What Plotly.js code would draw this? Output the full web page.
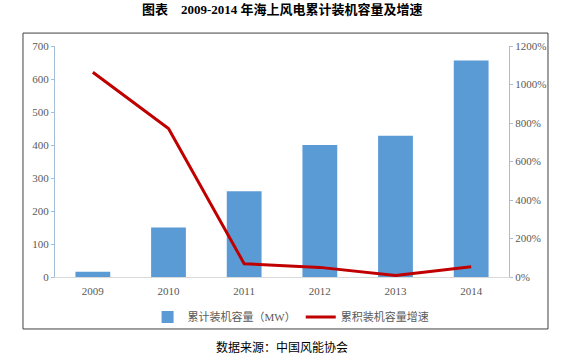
<!DOCTYPE html>
<html>
<head>
<meta charset="utf-8">
<script src="https://cdn.plot.ly/plotly-3.0.1.min.js"></script>
<style>html,body{margin:0;padding:0;background:#fff;}#chart{width:564px;height:359px;}</style>
</head>
<body>
<div id="chart"></div>
<script>
var years = ['2009', '2010', '2011', '2012', '2013', '2014'];
var capacityMW = [16, 150, 260, 400, 428, 656];
var growthPct = [1064, 771, 69, 50, 8, 53];
var capacityName = '累计装机容量（MW）';
var growthName = '累积装机容量增速';
var titleText = '图表　2009-2014 年海上风电累计装机容量及增速';
var sourceText = '数据来源：中国风能协会';

var serif = '"Liberation Serif", "Noto Sans CJK SC", serif';
var tickColor = '#595959';

var traces = [
  {
    type: 'bar', x: years, y: capacityMW, name: capacityName,
    marker: {color: '#5B9BD5'}, yaxis: 'y'
  },
  {
    type: 'scatter', mode: 'lines', x: years, y: growthPct, name: growthName,
    line: {color: '#C00000', width: 3}, yaxis: 'y2'
  }
];

var layout = {
  width: 564, height: 359,
  margin: {l: 55, r: 55, t: 46, b: 82},
  paper_bgcolor: '#ffffff', plot_bgcolor: '#ffffff',
  showlegend: true,
  bargap: 0.54,
  font: {family: serif, size: 11, color: tickColor},
  xaxis: {
    type: 'category', showgrid: false, zeroline: false,
    showline: true, linecolor: '#D9D9D9', linewidth: 1,
    ticks: '', tickfont: {family: serif, size: 11, color: tickColor},
    ticklabelstandoff: 4
  },
  yaxis: {
    range: [0, 700], dtick: 100, showgrid: false, zeroline: false,
    showline: true, linecolor: '#A6BDD7', linewidth: 1,
    ticks: 'outside', ticklen: 3, tickcolor: '#A6BDD7',
    tickfont: {family: serif, size: 11, color: tickColor}
  },
  yaxis2: {
    range: [0, 1200], dtick: 200, ticksuffix: '%', overlaying: 'y', side: 'right',
    showgrid: false, zeroline: false,
    showline: true, linecolor: '#A6BDD7', linewidth: 1,
    ticks: 'outside', ticklen: 3, tickcolor: '#A6BDD7',
    tickfont: {family: serif, size: 11, color: tickColor}
  },
  legend: {
    orientation: 'h', x: 0.52, xanchor: 'center', y: -0.173, yanchor: 'middle',
    font: {family: serif, size: 11, color: tickColor},
    bgcolor: 'rgba(0,0,0,0)', traceorder: 'normal', itemwidth: 30
  },
  shapes: [
    {type: 'rect', xref: 'paper', yref: 'paper', x0: -0.0705, x1: 1.0859, y0: -0.225, y1: 1.056,
     line: {color: '#404040', width: 1}, fillcolor: 'rgba(0,0,0,0)', layer: 'below'}
  ],
  annotations: [
    {text: '<b>' + titleText + '</b>', xref: 'paper', yref: 'paper', x: 0.5, y: 1.156,
     xanchor: 'center', yanchor: 'middle', showarrow: false,
     font: {family: serif, size: 13, color: '#000'}},
    {text: sourceText, xref: 'paper', yref: 'paper', x: 0.5, y: -0.303,
     xanchor: 'center', yanchor: 'middle', showarrow: false,
     font: {family: '"Noto Sans CJK SC", sans-serif', size: 12, color: '#000'}}
  ]
};

Plotly.newPlot('chart', traces, layout, {displayModeBar: false, staticPlot: true});
</script>
</body>
</html>
